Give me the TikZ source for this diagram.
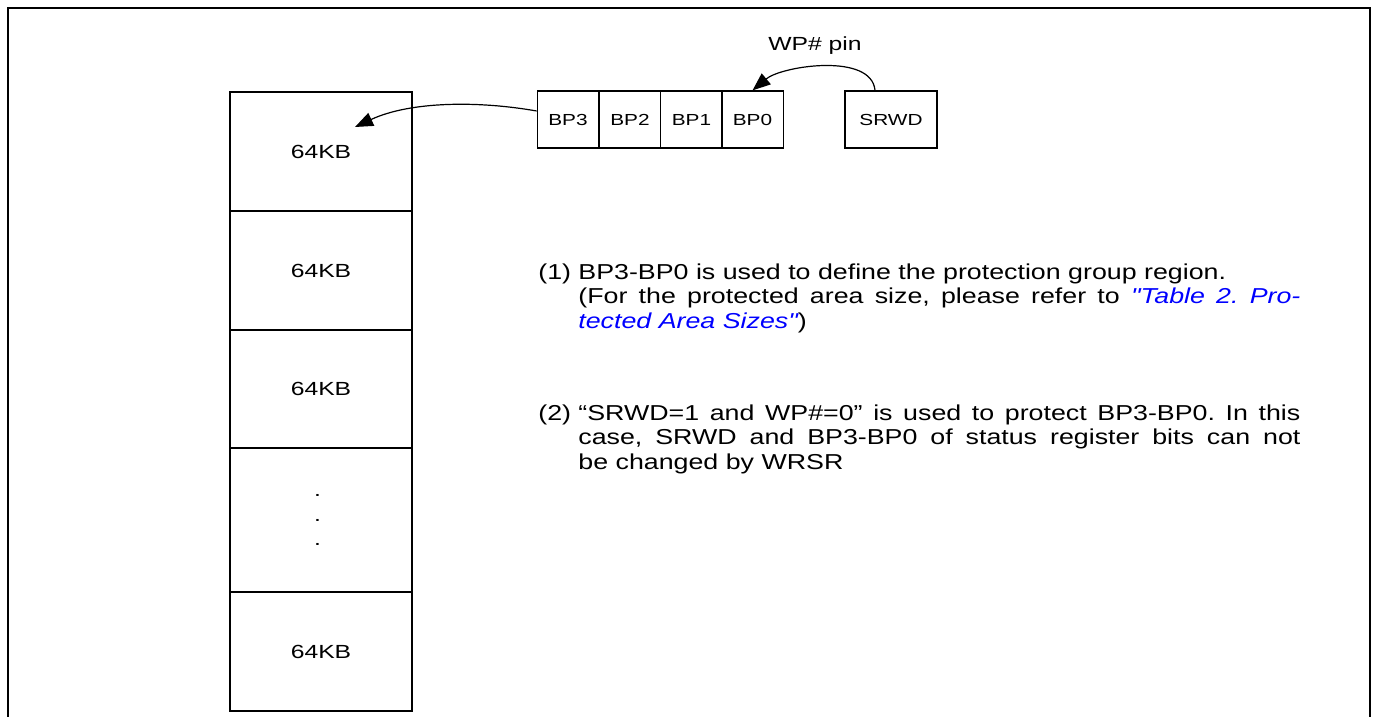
\documentclass[tikz,border=0pt]{standalone}
\usepackage{fontspec}
\setmainfont{Liberation Sans}
\newfontfamily\wideface[FakeStretch=1.3]{Liberation Sans}
\newfontfamily\noteface[FakeStretch=1.24]{Liberation Sans}
\usetikzlibrary{arrows.meta}

\tikzset{
  cell/.style={draw, line width=0.6pt, inner sep=0pt, minimum width=91pt,
    font=\wideface\fontsize{9.5}{12.25}\selectfont},
  bit/.style={draw, line width=0.6pt, inner sep=0pt, minimum width=30.75pt,
    minimum height=28.5pt, font=\wideface\fontsize{8}{10}\selectfont},
  link/.style={-{Triangle[length=9pt,width=7pt]}, line width=0.6pt},
  note/.style={align=left, inner sep=0pt,
    font=\noteface\fontsize{10.8}{12.25}\selectfont\frenchspacing},
}
\newcommand{\jline}[1]{\makebox[361pt][s]{#1}}
\newcommand{\itemlbl}[1]{\makebox[20pt][l]{#1}}

\begin{document}
\begin{tikzpicture}[x=0.5pt, y=-0.5pt]
    \useasboundingbox (0,0) rectangle (1377,717);
    % Frame, open at the bottom
    \draw[line width=1.2pt] (8,717) -- (8,8) -- (1370,8) -- (1370,717);

    % Memory blocks
    \node[cell, minimum height=59.5pt] (m1) at (321,151.5) {64KB};
    \node[cell, minimum height=59.5pt] (m2) at (321,270.5) {64KB};
    \node[cell, minimum height=59pt] (m3) at (321,389) {64KB};
    \node[cell, minimum height=72pt, align=center] (m4) at (321,520)
        {\llap{.}\\\llap{.}\\\llap{.}};
    \node[cell, minimum height=59.5pt] (m5) at (321,651.5) {64KB};

    % Status register bits
    \node[bit] (bp3) at (568,119.5) {BP3};
    \node[bit] (bp2) at (630,119.5) {BP2};
    \node[bit] (bp1) at (691.5,119.5) {BP1};
    \node[bit] (bp0) at (752.5,119.5) {BP0};
    \node[bit, minimum width=46pt] (srwd) at (891,119.5) {SRWD};
    \node[font=\wideface\fontsize{9.5}{11}\selectfont] (wp) at (815,46) {WP\# pin};

    % Arrows
    \coordinate (hit) at (355,127);
    \draw[link] ([yshift=4.25pt]bp3.west) to[out=170, in=25, looseness=0.85] (hit);
    \draw[link] ([xshift=-8pt]srwd.north) to[out=95, in=40, looseness=0.8] (bp0.north);

    % Notes
    \node[note, anchor=base west] (note1) at (538,328) {%
        \itemlbl{(1)}BP3-BP0 is used to define the protection group region.\\
        \hspace*{20pt}\jline{(For the protected area size, please refer to {\color{blue}\itshape "Table 2. Pro-}}\\
        \hspace*{20pt}{\color{blue}\itshape tected Area Sizes"})};
    \node[note, anchor=base west] (note2) at (538,469) {%
        \itemlbl{(2)}\jline{“SRWD=1 and WP\#=0” is used to protect BP3-BP0. In this}\\
        \hspace*{20pt}\jline{case, SRWD and BP3-BP0 of status register bits can not}\\
        \hspace*{20pt}be changed by WRSR};
\end{tikzpicture}
\end{document}
